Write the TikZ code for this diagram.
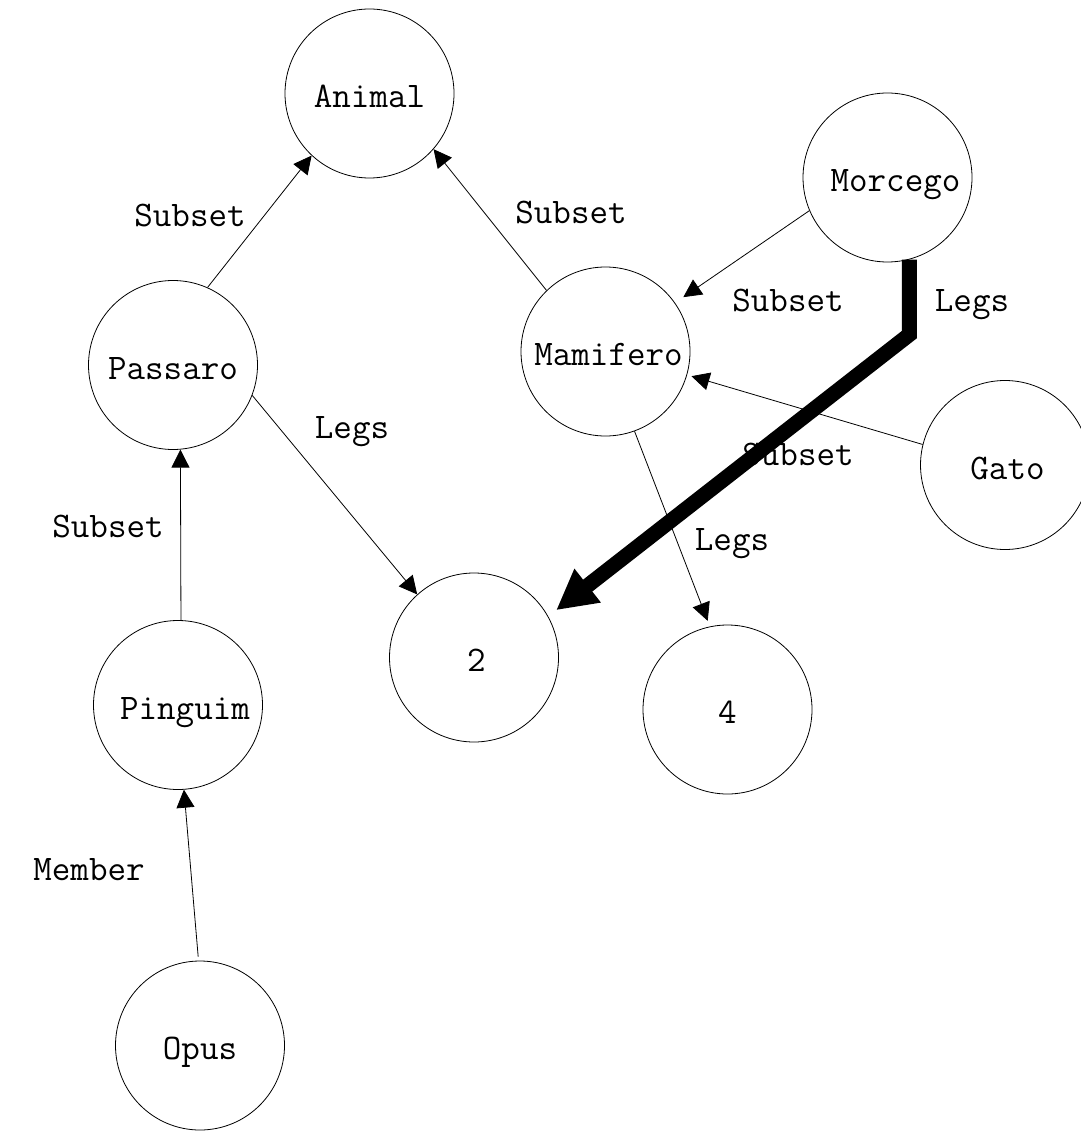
\documentclass[tikz,border=0pt]{standalone}
\usepackage{fontspec}
\usetikzlibrary{arrows.meta}
\begin{document}
\begin{tikzpicture}[x=1pt,y=-1pt,
  concept/.style={circle,draw,line width=0.8pt,fill=white,minimum size=169pt,inner sep=0pt,text height=28pt,text depth=0pt,font=\ttfamily\fontsize{36}{40}\selectfont},
  lbl/.style={anchor=base,inner sep=0pt,font=\ttfamily\fontsize{36}{40}\selectfont},
  rel/.style={line width=0.8pt,-{Triangle[length=18pt,width=18pt]}},
  boldrel/.style={line width=15pt,-{Triangle[length=40pt,width=40pt]}}]
\useasboundingbox (0,0) rectangle (1080,1131);

\node[concept] (animal) at (369.5,93.5) {Animal};
\node[concept] (morcego) at (887.5,177.5) {\hspace*{16pt}Morcego};
\node[concept] (passaro) at (173,365) {Passaro};
\node[concept] (mam) at (605.5,351.5) {\hspace*{6pt}Mamifero};
\node[concept] (gato) at (1005,465) {\hspace*{5pt}Gato};
\node[concept] (two) at (474,657.5) {\hspace*{5pt}2};
\node[concept] (four) at (727.5,709.5) {4};
\node[concept] (ping) at (178,705) {\hspace*{14pt}Pinguim};
\node[concept] (opus) at (200,1045.5) {Opus};

\node[lbl] (l1) at (190,227) {Subset};
\node[lbl] (l2) at (571,224) {Subset};
\node[lbl] (l3) at (788,311) {Subset};
\node[lbl] (l4) at (798,465) {Subset};
\node[lbl] (l5) at (732,550) {Legs};
\node[lbl] (l6) at (972,311) {Legs};
\node[lbl] (l7) at (352,438) {Legs};
\node[lbl] (l8) at (108,537) {Subset};
\node[lbl] (l9) at (89,880) {Member};

\draw[rel] (passaro.66.4) -- (animal.227.8);
\draw[rel] (mam.134.5) -- (animal.-41.3);
\draw[rel,shorten >=10pt] (morcego.203.5) -- (mam.35.1);
\draw[rel,shorten >=4.5pt] (gato.166.5) -- (mam.-16.6);
\draw[rel,shorten >=6pt] (mam.-70.7) -- (four.102.4);
\draw[rel] (passaro.-21.9) -- (two.132.4);
\draw[rel] (ping.88.6) -- (passaro.-85.3);
\draw[rel,shorten <=4pt] (opus.91.3) -- (ping.-86.6);
\draw[boldrel,shorten >=10pt] (morcego.-75.4) -- ++(0,75) -- (two.29.3);
\end{tikzpicture}
\end{document}
